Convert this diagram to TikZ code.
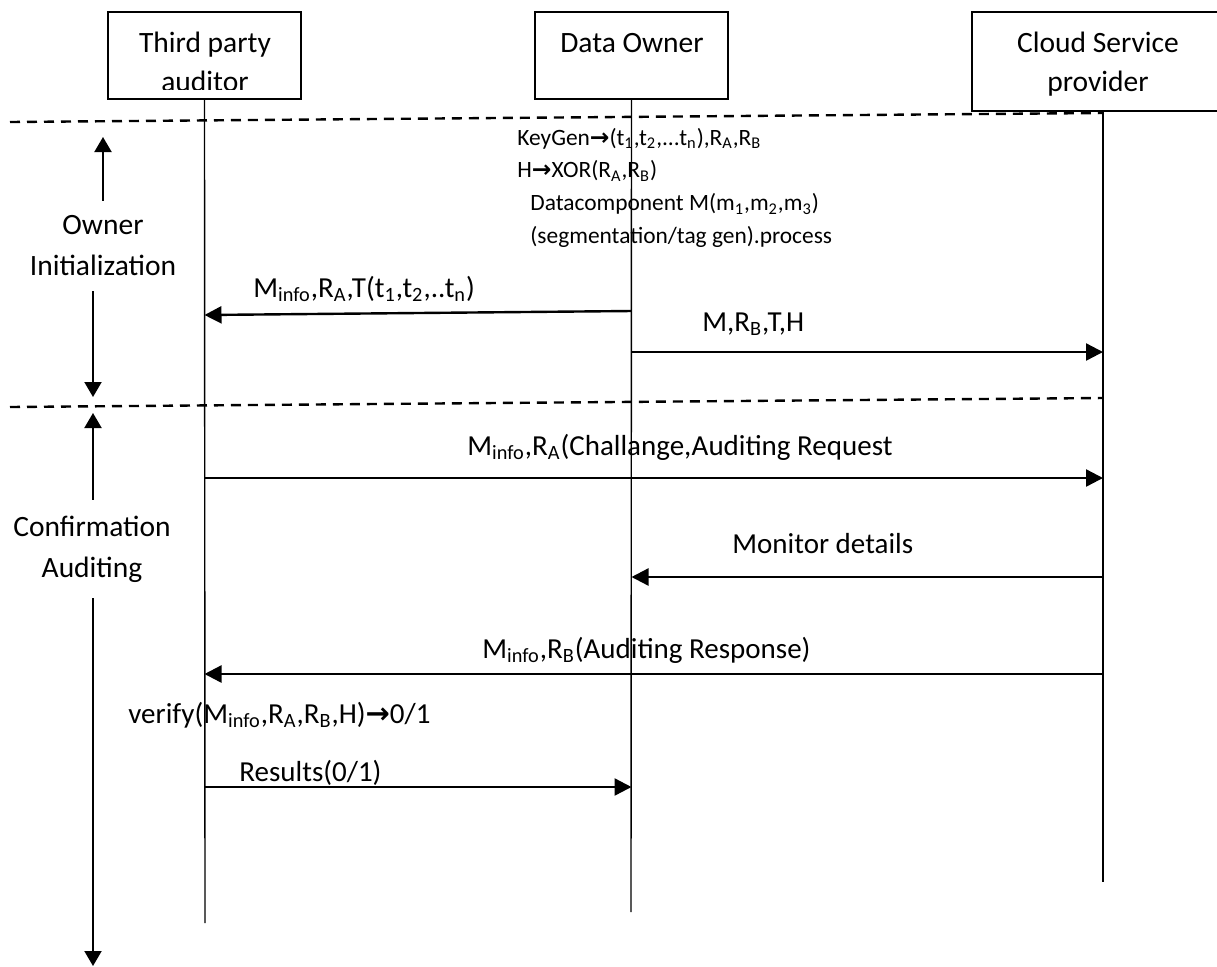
\documentclass[tikz,border=0pt]{standalone}
\usepackage{fontspec}
\setmainfont{Carlito}
\newfontfamily\arrowfont{DejaVu Sans}
\usetikzlibrary{arrows.meta}

\newcommand{\sub}[1]{\textsubscript{#1}}
\newcommand{\thickto}{{\arrowfont\bfseries →}}

\tikzset{
  actor/.style={draw, line width=1pt, inner sep=0pt},
  actorlbl/.style={align=center, inner sep=0pt, anchor=base, font=\fontsize{14.75}{19.5}\selectfont},
  lifeline/.style={line width=0.7pt},
  msg/.style={line width=1.2pt, -{Triangle[length=8.5pt,width=8.5pt]}},
  msglbl/.style={inner sep=0pt, anchor=base west, font=\fontsize{14.5}{17}\selectfont},
  sep/.style={line width=1.2pt, dash pattern=on 5pt off 3.5pt},
  phase/.style={align=center, inner sep=0pt, font=\fontsize{14.75}{20.5}\selectfont},
  phasearr/.style={line width=1pt, -{Triangle[length=7.5pt,width=8.5pt]}}
}

\begin{document}
\begin{tikzpicture}[x=0.5pt, y=-0.5pt]
\useasboundingbox (0,0) rectangle (1217,966);

\node[actor, minimum width=96.5pt, minimum height=43.5pt] (tpa) at (204.5,55.5) {};
\node[actor, minimum width=96.5pt, minimum height=43.5pt] (own) at (631.5,55.5) {};
\node[actor, minimum width=123.5pt, minimum height=49.5pt] (csp) at (1095.5,61.5) {};

\begin{scope}
\clip (108,12) rectangle (301,89);
\node[actorlbl] (tpalbl) at (205,91) {Third party\\auditor};
\end{scope}
\node[actorlbl] (ownlbl) at (632,52) {Data Owner};
\node[actorlbl] (csplbl) at (1098,91) {Cloud Service\\provider};

\coordinate (tpaend) at (205,923);
\coordinate (ownend) at (631,912);
\coordinate (cspend) at (1103,882);
\draw[lifeline] (tpa.south) -- (tpaend);
\draw[lifeline] (own.south) -- (ownend);
\draw[lifeline] (csp.south -| cspend) -- (cspend);

\draw[sep] (10,122) -- (1103,113);
\draw[sep] (10,407) -- (1103,398);

\node[phase, outer sep=7.5pt] (ownph) at (103,246) {Owner\\Initialization};
\coordinate (owntop) at (103,137);
\coordinate (ownbot) at (93,397);
\draw[phasearr] (ownph.north) -- (owntop);
\draw[phasearr] (ownph.south -| ownbot) -- (ownbot);

\node[phase, outer sep=8pt] (confph) at (92,549) {Confirmation\\Auditing};
\coordinate (conftop) at (93,413);
\coordinate (confbot) at (93,966);
\draw[phasearr] (confph.north -| conftop) -- (conftop);
\draw[phasearr] (confph.south -| confbot) -- (confbot);

\node[inner sep=0pt, anchor=base west, align=left, font=\fontsize{11.7}{16.3}\selectfont] (keygen) at (517,243)
  {KeyGen\thickto(t\sub{1},t\sub{2},...t\sub{n}),R\sub{A},R\sub{B}\\
   H\thickto XOR(R\sub{A},R\sub{B})\\
   \hspace{6.5pt}Datacomponent M(m\sub{1},m\sub{2},m\sub{3})\\
   \hspace{6.5pt}(segmentation/tag gen).process};

\draw[msg] (own.south |- 0,311) -- (tpa.south |- 0,315);
\node[msglbl] (m1) at (253,297) {M\sub{info},R\sub{A},T(t\sub{1},t\sub{2},..t\sub{n})};

\draw[msg] (own.south |- 0,352) -- (cspend |- 0,352);
\node[msglbl] (m2) at (702,331) {M,R\sub{B},T,H};

\draw[msg] (tpa.south |- 0,478) -- (cspend |- 0,478);
\node[msglbl] (m3) at (467,455) {M\sub{info},R\sub{A}(Challange,Auditing Request};

\draw[msg] (cspend |- 0,577) -- (own.south |- 0,577);
\node[msglbl] (m4) at (732,553) {Monitor details};

\draw[msg] (cspend |- 0,674) -- (tpa.south |- 0,674);
\node[msglbl] (m5) at (482,658) {M\sub{info},R\sub{B}(Auditing Response)};

\node[msglbl] (verify) at (128,723) {verify(M\sub{info},R\sub{A},R\sub{B},H)\thickto 0/1};

\draw[msg] (tpa.south |- 0,787) -- (own.south |- 0,787);
\node[msglbl] (m6) at (239,781) {Results(0/1)};

\end{tikzpicture}
\end{document}
